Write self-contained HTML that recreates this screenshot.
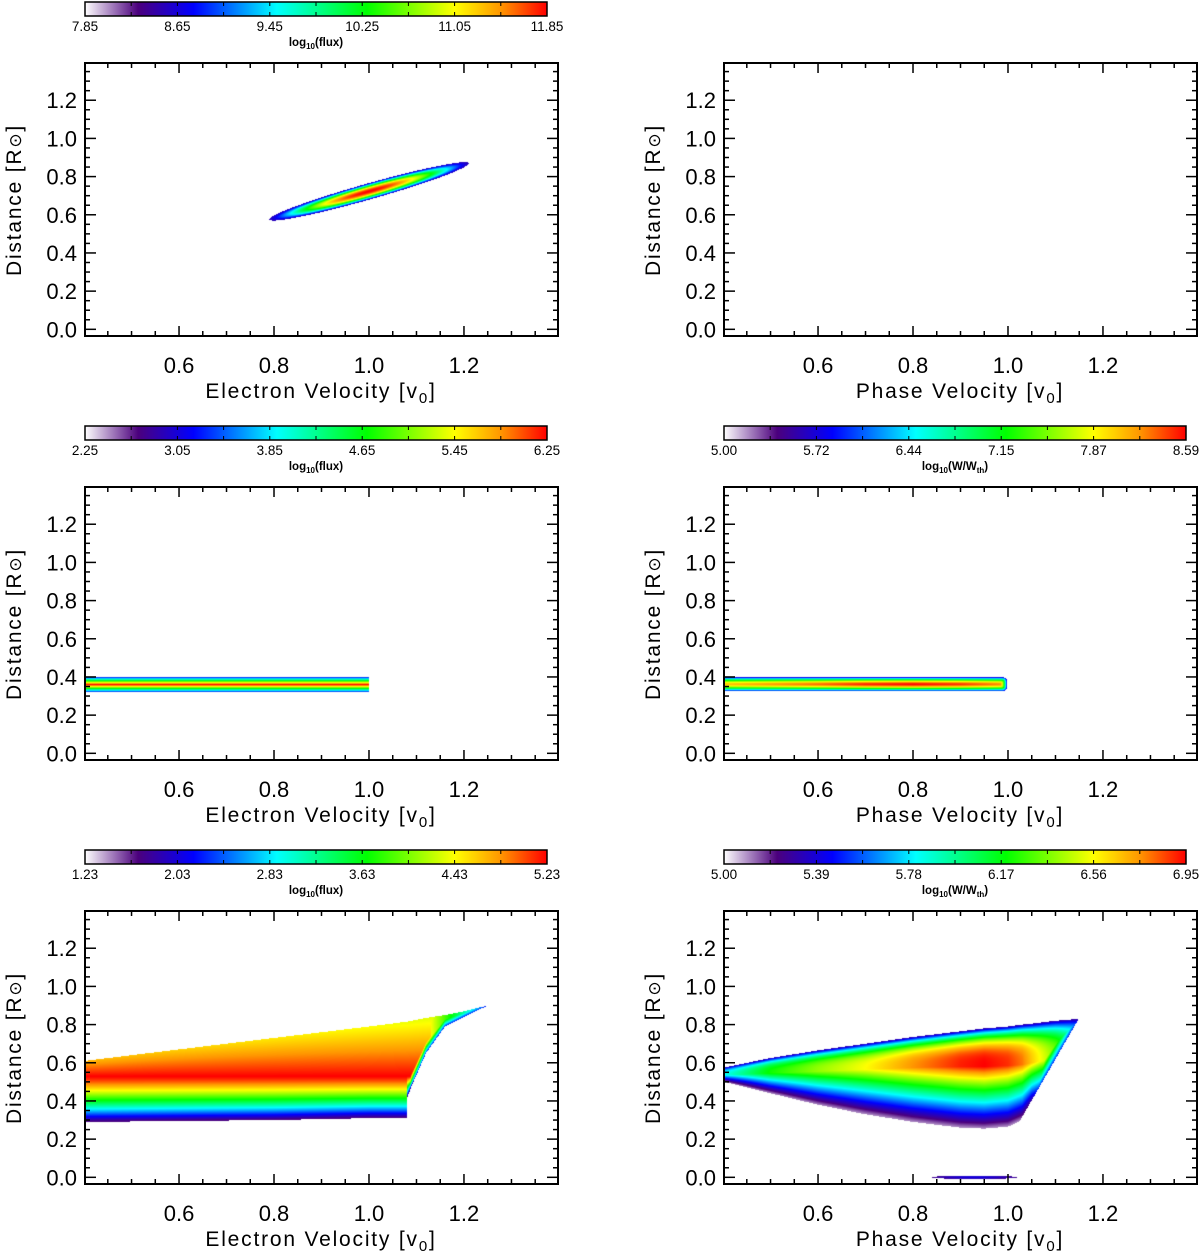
<!DOCTYPE html>
<html><head><meta charset="utf-8">
<style>
html,body{margin:0;padding:0;background:#fff;}
#wrap{position:relative;width:1200px;height:1255px;overflow:hidden;}
canvas{position:absolute;}
svg{position:absolute;left:0;top:0;}
text{font-family:"Liberation Sans",sans-serif;fill:#000;}
</style></head>
<body>
<div id="wrap">
<svg id="svg" width="1200" height="1255"></svg>
</div>
<script>
// ---- axis data ----
const yTickValues = [0.0, 0.2, 0.4, 0.6, 0.8, 1.0, 1.2];
const yTickLabels = ["0.0","0.2","0.4","0.6","0.8","1.0","1.2"];
const xTickValues = [0.6, 0.8, 1.0, 1.2];
const xTickLabels = ["0.6","0.8","1.0","1.2"];
const xRange = [0.402, 1.398];
const yRange = [-0.035, 1.395];

// ---- colorbar data ----
const cbLabelsA = ["7.85","8.65","9.45","10.25","11.05","11.85"];
const cbLabelsB = ["2.25","3.05","3.85","4.65","5.45","6.25"];
const cbLabelsC = ["5.00","5.72","6.44","7.15","7.87","8.59"];
const cbLabelsD = ["1.23","2.03","2.83","3.63","4.43","5.23"];
const cbLabelsE = ["5.00","5.39","5.78","6.17","6.56","6.95"];

// ---- heatmap shape data ----
const beamStart = [0.79, 0.575];
const beamEnd = [1.21, 0.87];
const beamHalfWidth = [0.042];
const bandLeftY = [0.32, 0.36, 0.40];
const bandLeftX = [0.402, 1.0];
const bandRightY = [0.327, 0.362, 0.399];
const bandRightX = [0.402, 0.6, 0.7, 0.8, 0.9, 0.998];
const bandRightAmp = [0.86, 0.93, 0.98, 1.0, 0.97, 0.9];
const blX   = [0.402,0.6,0.8,1.0,1.079,1.081,1.09,1.12,1.16,1.2,1.25];
const blTop = [0.61,0.67,0.73,0.79,0.815,0.815,0.82,0.835,0.85,0.87,0.90];
const blBot = [0.29,0.295,0.30,0.31,0.31,0.42,0.48,0.65,0.79,0.84,0.90];
const blCenter = [0.53];
const brX   = [0.402,0.5,0.6,0.7,0.8,0.9,0.95,1.0,1.03,1.05,1.1,1.15];
const brTop = [0.575,0.625,0.665,0.70,0.735,0.765,0.78,0.79,0.80,0.805,0.82,0.83];
const brCen = [0.535,0.545,0.555,0.565,0.575,0.58,0.58,0.585,0.59,0.60,0.62,0.65];
const brBot = [0.50,0.44,0.38,0.33,0.29,0.26,0.255,0.265,0.30,0.37,0.45,0.6];
const brAmp = [0.42,0.62,0.72,0.8,0.9,0.98,1.0,0.97,0.92,0.85,0.7,0.5];
const brCutoff = [[1.04,0.36],[1.15,0.835]];
const brBlob = [0.93, 0.0, 0.09, 0.009];

// ---- layout ----
const colOff = [0, 639];
const rowOff = [0, 424, 848];
const BX0 = 85, BX1 = 558, BY0 = 63, BY1 = 336;

function sx(v, ox){ return ox + BX0 + (v - xRange[0]) / (xRange[1]-xRange[0]) * (BX1-BX0); }
function sy(v, oy){ return oy + BY1 - (v - yRange[0]) / (yRange[1]-yRange[0]) * (BY1-BY0); }
function ix(px){ return xRange[0] + (px - BX0)/(BX1-BX0)*(xRange[1]-xRange[0]); }
function iy(py){ return yRange[0] + (BY1 - py)/(BY1-BY0)*(yRange[1]-yRange[0]); }

const cmStops = [[0,255,255,255],[0.115,75,0,125],[0.235,0,0,255],[0.415,0,255,255],[0.61,0,255,0],[0.80,255,255,0],[0.9,255,150,0],[1.0,255,0,0]];
function cmap(v){
  v = Math.max(0, Math.min(1, v));
  for (let i=1;i<cmStops.length;i++){
    if (v <= cmStops[i][0]){
      const a=cmStops[i-1], b=cmStops[i], t=(v-a[0])/(b[0]-a[0]);
      return [a[1]+(b[1]-a[1])*t, a[2]+(b[2]-a[2])*t, a[3]+(b[3]-a[3])*t];
    }
  }
  return [255,0,0];
}
function interp(xs, ys, x){
  if (x <= xs[0]) return ys[0];
  for (let i=1;i<xs.length;i++) if (x <= xs[i]) { const t=(x-xs[i-1])/(xs[i]-xs[i-1]); return ys[i-1]+(ys[i]-ys[i-1])*t; }
  return ys[ys.length-1];
}

function fieldBeam(x,y){
  const cx=(beamStart[0]+beamEnd[0])/2, cy=(beamStart[1]+beamEnd[1])/2;
  const kx=475, ky=191.7;
  const ax=(beamEnd[0]-beamStart[0])*kx/2, ay=(beamEnd[1]-beamStart[1])*ky/2;
  const L=Math.hypot(ax,ay), ux=ax/L, uy=ay/L;
  const dx=(x-cx)*kx, dy=(y-cy)*ky;
  const u=(dx*ux+dy*uy)/L, w=(-dx*uy+dy*ux)/(beamHalfWidth[0]*ky);
  const r=Math.sqrt(u*u+w*w);
  if (r>1) return null;
  const s=1-r*r;
  return 0.17+0.83*Math.pow(s,1.3);
}
function fieldBandLeft(x,y){
  if (x>bandLeftX[1]) return null;
  if (y<bandLeftY[0]||y>bandLeftY[2]) return null;
  const h=y>bandLeftY[1]?(bandLeftY[2]-bandLeftY[1]):(bandLeftY[1]-bandLeftY[0]);
  const t=Math.abs(y-bandLeftY[1])/h;
  return 1-0.78*t;
}
function fieldBandRight(x,y){
  const xe=bandRightX[bandRightX.length-1];
  const h=(bandRightY[2]-bandRightY[0])/2;
  let t=Math.abs(y-bandRightY[1])/h;
  const endR=0.015;
  if (x>xe-endR){ const e=(x-(xe-endR))/endR; t=Math.sqrt(t*t*t*t+e*e*e*e); t=Math.sqrt(t); }
  if (t>1) return null;
  const amp=interp(bandRightX,bandRightAmp,x);
  return 0.2+(amp-0.2)*(1-Math.pow(t,1.6));
}
function fieldBL(x,y){
  if (x>blX[blX.length-1]) return null;
  const top=interp(blX,blTop,x), bot=interp(blX,blBot,x);
  if (y>top||y<bot) return null;
  const c=blCenter[0];
  let v;
  if (y>=c){ v=1-(0.1+0.4*(top-c))*(y-c)/Math.max(0.01,top-c); }
  else { const t=(c-y)/(c-bot); v=1-0.9*Math.pow(t,1.3); }
  if (x>1.079){
    const d=(y-bot)*191.7;
    v=Math.min(v,0.25+d*0.06);
    if (x>1.13){ v=Math.min(v,0.8-(x-1.13)*4.5); }
  }
  return Math.max(0.12,v);
}
function fieldBR(x,y){
  const bx=brBlob;
  const ex=(x-bx[0])/bx[2], ey=(y-bx[1])/bx[3], rr=ex*ex+ey*ey;
  if (rr<=1) return 0.13+0.08*(1-rr);
  if (x>brX[brX.length-1]) return null;
  const p=brCutoff[0], q=brCutoff[1];
  const xr=p[0]+(y-p[1])/(q[1]-p[1])*(q[0]-p[0]);
  if (x>xr) return null;
  const top=interp(brX,brTop,x), cen=interp(brX,brCen,x), bot=interp(brX,brBot,x);
  if (y>top||y<bot) return null;
  const amp=interp(brX,brAmp,x);
  let v;
  if (y>=cen){ const t=(y-cen)/Math.max(0.005,top-cen); v=0.15+(amp-0.15)*(1-Math.pow(t,3)); }
  else { const t=(cen-y)/Math.max(0.005,cen-bot); v=0.05+(amp-0.05)*Math.pow(1-t,1.1); }
  const d=(xr-x)*475;
  v=Math.min(v,0.26+d*0.05);
  return v;
}

const wrap=document.getElementById('wrap');
function drawField(fn, ox, oy, name){
  const w=BX1-BX0-1, h=BY1-BY0-1;
  const c=document.createElement('canvas');
  c.width=w; c.height=h;
  c.style.left=(ox+BX0+1)+'px'; c.style.top=(oy+BY0+1)+'px';
  
  
  const ctx=c.getContext('2d'); const img=ctx.createImageData(w,h);
  for (let j=0;j<h;j++){
    const y=iy(BY0+1+j+0.5);
    for (let i=0;i<w;i++){
      const x=ix(BX0+1+i+0.5);
      const v=fn(x,y); const k=(j*w+i)*4;
      if (v===null){ img.data[k]=255;img.data[k+1]=255;img.data[k+2]=255;img.data[k+3]=0; continue; }
      const col=cmap(v);
      img.data[k]=col[0];img.data[k+1]=col[1];img.data[k+2]=col[2];img.data[k+3]=255;
    }
  }
  ctx.putImageData(img,0,0);
  wrap.insertBefore(c, wrap.firstChild);
}

const svg=document.getElementById('svg');
const NS='http://www.w3.org/2000/svg';
function el(tag, attrs, parent){
  const e=document.createElementNS(NS,tag);
  for (const k in attrs) e.setAttribute(k, attrs[k]);
  (parent||svg).appendChild(e); return e;
}
const defs=el('defs',{});
const grad=el('linearGradient',{id:'cm',x1:'0',x2:'1',y1:'0',y2:'0'},defs);
for (const s of cmStops){ el('stop',{offset:s[0],'stop-color':`rgb(${s[1]},${s[2]},${s[3]})`},grad); }

function drawAxes(ox, oy, xTitle, prefix){
  const g=el('g',{});
  
  
  const frame=el('rect',{x:ox+BX0,y:oy+BY0,width:BX1-BX0,height:BY1-BY0,fill:'none',stroke:'#000','stroke-width':2},g);
  
  
  for (let v=0.45; v<1.3999; v+=0.05){
    const vv=Math.round(v*100)/100;
    const major=xTickValues.some(t=>Math.abs(t-vv)<1e-6);
    const L=major?10:5, px=sx(vv,ox);
    el('line',{x1:px,x2:px,y1:oy+BY1,y2:oy+BY1-L,stroke:'#000','stroke-width':1.5},g);
    el('line',{x1:px,x2:px,y1:oy+BY0,y2:oy+BY0+L,stroke:'#000','stroke-width':1.5},g);
  }
  for (let v=0.0; v<1.3999; v+=0.05){
    const vv=Math.round(v*100)/100;
    const major=yTickValues.some(t=>Math.abs(t-vv)<1e-6);
    const L=major?11:5, py=sy(vv,oy);
    el('line',{x1:ox+BX0,x2:ox+BX0+L,y1:py,y2:py,stroke:'#000','stroke-width':1.5},g);
    el('line',{x1:ox+BX1,x2:ox+BX1-L,y1:py,y2:py,stroke:'#000','stroke-width':1.5},g);
  }
  xTickValues.forEach((v,i)=>{
    const t=el('text',{x:sx(v,ox),y:oy+373,'font-size':22,'text-anchor':'middle'},g);
    t.textContent=xTickLabels[i];
    
    
  });
  yTickValues.forEach((v,i)=>{
    const t=el('text',{x:ox+77,y:sy(v,oy)+8,'font-size':22,'text-anchor':'end'},g);
    t.textContent=yTickLabels[i];
    
    
  });
  const xt=el('text',{x:ox+321,y:oy+398,'font-size':21,'text-anchor':'middle','letter-spacing':'1.8'},g);
  xt.innerHTML=xTitle+' [v<tspan font-size="15" dy="5">0</tspan><tspan dy="-5">]</tspan>';
  
  
  const yt=el('text',{x:0,y:0,'font-size':21,'text-anchor':'middle','letter-spacing':'1.8',transform:`translate(${ox+21},${oy+200}) rotate(-90)`},g);
  yt.innerHTML='Distance [R<tspan font-size="17">⊙</tspan>]';
  
  
}

function drawColorbar(ox, oy, labels, titleHTML, prefix){
  const g=el('g',{});
  
  
  const x0=ox+85, x1=ox+547, y0=oy+2, y1=oy+16;
  el('rect',{x:x0,y:y0,width:x1-x0,height:y1-y0,fill:'url(#cm)',stroke:'#000','stroke-width':1.5},g);
  for (let i=1;i<10;i++){
    const px=x0+(x1-x0)*i/10;
    el('line',{x1:px,x2:px,y1:y0,y2:y0+4,stroke:'#000','stroke-width':1},g);
    el('line',{x1:px,x2:px,y1:y1,y2:y1-4,stroke:'#000','stroke-width':1},g);
  }
  labels.forEach((s,i)=>{
    const t=el('text',{x:x0+(x1-x0)*i/5,y:oy+31,'font-size':13.5,'text-anchor':'middle'},g);
    t.textContent=s;
    
    
  });
  const tt=el('text',{x:(x0+x1)/2,y:oy+46,'font-size':11.5,'font-weight':'bold','text-anchor':'middle'},g);
  tt.innerHTML=titleHTML;
  
  
}

const fluxT='log<tspan font-size="8" dy="3">10</tspan><tspan dy="-3">(flux)</tspan>';
const wT='log<tspan font-size="8" dy="3">10</tspan><tspan dy="-3">(W/W</tspan><tspan font-size="8" dy="3">th</tspan><tspan dy="-3">)</tspan>';

drawColorbar(colOff[0], rowOff[0], cbLabelsA, fluxT, 'top-left');
drawColorbar(colOff[0], rowOff[1], cbLabelsB, fluxT, 'middle-left');
drawColorbar(colOff[1], rowOff[1], cbLabelsC, wT, 'middle-right');
drawColorbar(colOff[0], rowOff[2], cbLabelsD, fluxT, 'bottom-left');
drawColorbar(colOff[1], rowOff[2], cbLabelsE, wT, 'bottom-right');

drawAxes(colOff[0], rowOff[0], 'Electron Velocity', 'top-left');
drawAxes(colOff[1], rowOff[0], 'Phase Velocity', 'top-right');
drawAxes(colOff[0], rowOff[1], 'Electron Velocity', 'middle-left');
drawAxes(colOff[1], rowOff[1], 'Phase Velocity', 'middle-right');
drawAxes(colOff[0], rowOff[2], 'Electron Velocity', 'bottom-left');
drawAxes(colOff[1], rowOff[2], 'Phase Velocity', 'bottom-right');

drawField(fieldBeam, colOff[0], rowOff[0], 'top-left-heatmap');
drawField(fieldBandLeft, colOff[0], rowOff[1], 'middle-left-heatmap');
drawField(fieldBandRight, colOff[1], rowOff[1], 'middle-right-heatmap');
drawField(fieldBL, colOff[0], rowOff[2], 'bottom-left-heatmap');
drawField(fieldBR, colOff[1], rowOff[2], 'bottom-right-heatmap');
</script>
</body></html>
